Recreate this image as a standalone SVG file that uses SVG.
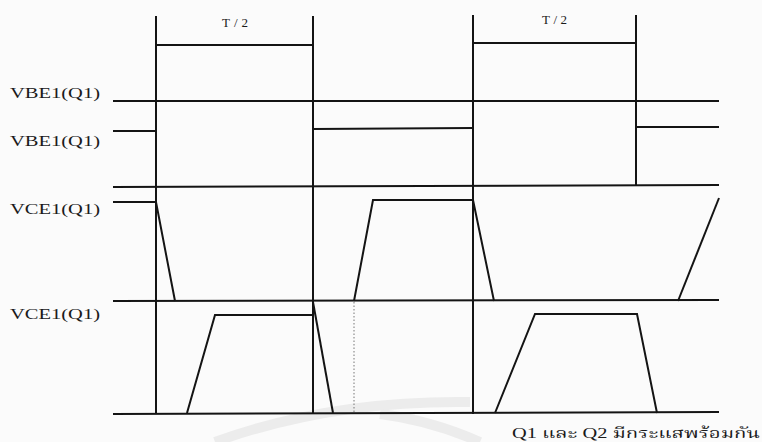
<svg xmlns="http://www.w3.org/2000/svg" width="762" height="442" viewBox="0 0 762 442">
<style>
.w{fill:none;stroke:#141414;stroke-width:2;stroke-linejoin:miter;stroke-linecap:butt}
.lbl{font-family:"Liberation Serif","DejaVu Serif",serif;font-size:15px;fill:#1a1a1a}
.t2{font-family:"Liberation Serif","DejaVu Serif",serif;font-size:13px;fill:#1a1a1a}
.th{font-family:"Liberation Serif","Noto Serif Thai","Noto Sans Thai","DejaVu Sans",serif;font-size:14px;fill:#1a1a1a}
.dot{fill:none;stroke:#777;stroke-width:1;stroke-dasharray:1.5 2}
.wm{fill:none;stroke:#ececec;stroke-width:10}
</style>
<rect width="762" height="442" fill="#fbfbfb"/>
<g id="watermark">
<path class="wm" d="M215,442 Q330,400 470,402"/>
<path class="wm" d="M380,414 Q430,420 480,442"/>
</g>
<g id="grid">
<line class="w" x1="156" y1="16" x2="156" y2="414"/>
<line class="w" x1="313" y1="16" x2="313" y2="414"/>
<line class="w" x1="473" y1="15" x2="473" y2="414"/>
<line class="w" x1="636" y1="15" x2="636" y2="186"/>
</g>
<g id="period">
<polyline class="w" points="156,45 313,45"/>
<polyline class="w" points="473,43 636,43"/>
<text class="t2" x="222" y="27" textLength="26">T/2</text>
<text class="t2" x="542" y="24" textLength="25">T/2</text>
</g>
<g id="vbe1">
<text class="lbl" x="10" y="98" textLength="90" lengthAdjust="spacingAndGlyphs">VBE1(Q1)</text>
<line class="w" x1="113" y1="101" x2="719" y2="101"/>
</g>
<g id="vbe2">
<text class="lbl" x="10" y="146" textLength="90" lengthAdjust="spacingAndGlyphs">VBE1(Q1)</text>
<polyline class="w" points="113,131 156,131"/>
<polyline class="w" points="313,129 473,128"/>
<polyline class="w" points="636,186 636,127 719,127"/>
<line class="w" x1="113" y1="187" x2="719" y2="185"/>
</g>
<g id="vce1">
<text class="lbl" x="10" y="214" textLength="90" lengthAdjust="spacingAndGlyphs">VCE1(Q1)</text>
<polyline class="w" points="113,202 156,202 175,301"/>
<polyline class="w" points="354,301 373,200 473,200 494,301"/>
<polyline class="w" points="678,301 719,198"/>
<line class="w" x1="113" y1="301" x2="719" y2="300"/>
</g>
<g id="vce2">
<text class="lbl" x="10" y="319" textLength="90" lengthAdjust="spacingAndGlyphs">VCE1(Q1)</text>
<polyline class="w" points="187,413 215,315 313,315"/>
<polyline class="w" points="313,302 333,413"/>
<polyline class="w" points="495,413 535,314 637,314 657,413"/>
<line class="w" x1="113" y1="414" x2="719" y2="412"/>
<line class="dot" x1="354" y1="302" x2="354" y2="412"/>
</g>
<g id="caption">
<text class="th" x="512" y="438" textLength="248" lengthAdjust="spacingAndGlyphs">Q1 และ Q2 มีกระแสพร้อมกัน</text>
</g>
</svg>
